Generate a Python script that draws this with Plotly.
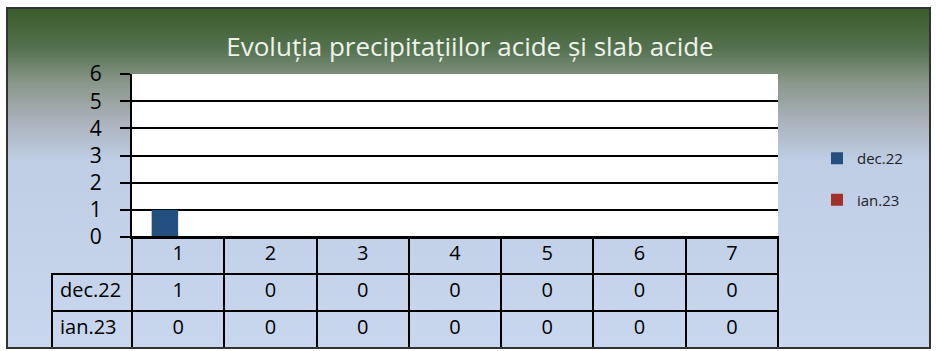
import plotly.graph_objects as go

# ---- data ----
categories = ["1", "2", "3", "4", "5", "6", "7"]
series_names = ["dec.22", "ian.23"]
dec22 = [1, 0, 0, 0, 0, 0, 0]
ian23 = [0, 0, 0, 0, 0, 0, 0]
title_text = "Evoluția precipitațiilor acide și slab acide"
y_ticks = [0, 1, 2, 3, 4, 5, 6]

W, H = 936, 351
colors = ["#24507f", "#a3302b"]

# plot area in pixels
px_l, px_r, px_t, px_b = 132, 778, 74, 237
tbl_l = 52

fig = go.Figure()
fig.add_trace(go.Bar(x=categories, y=dec22, name=series_names[0],
                     marker=dict(color=colors[0], line=dict(width=0)),
                     legendgroup="a"))
fig.add_trace(go.Bar(x=categories, y=ian23, name=series_names[1],
                     marker=dict(color=colors[1], line=dict(width=0)),
                     legendgroup="b"))

# data table
col_vals = [series_names] + [[str(a), str(b)] for a, b in zip(dec22, ian23)]
fig.add_trace(go.Table(
    domain=dict(x=[tbl_l / W, px_r / W], y=[0, 1 - px_b / H]),
    columnwidth=[80] + [92.3] * len(categories),
    header=dict(values=[""] + categories,
                fill_color="rgba(0,0,0,0)",
                line=dict(color=["rgba(0,0,0,0)"] + ["black"] * len(categories), width=2),
                font=dict(family="Open Sans", size=20, color="black"),
                align=["left"] + ["center"] * len(categories),
                height=37),
    cells=dict(values=col_vals,
               fill_color="rgba(0,0,0,0)",
               line=dict(color="black", width=2),
               font=dict(family="Open Sans", size=20, color="black"),
               align=["left"] + ["center"] * len(categories),
               height=37),
))

grad_svg = (
    "data:image/svg+xml;utf8,"
    "<svg xmlns='http://www.w3.org/2000/svg' width='100' height='100' preserveAspectRatio='none'>"
    "<defs><linearGradient id='g' x1='0' y1='0' x2='0' y2='1'>"
    "<stop offset='0' stop-color='%233a5b2a'/>"
    "<stop offset='0.12' stop-color='%23557250'/>"
    "<stop offset='0.22' stop-color='%238a978b'/>"
    "<stop offset='0.33' stop-color='%23a9b1ba'/>"
    "<stop offset='0.45' stop-color='%23bfcee5'/>"
    "<stop offset='1' stop-color='%23c9d7ee'/>"
    "</linearGradient></defs>"
    "<rect width='100' height='100' fill='url(%23g)'/></svg>"
)

fig.update_layout(
    width=W, height=H,
    margin=dict(l=0, r=0, t=0, b=0, autoexpand=False),
    paper_bgcolor="white",
    plot_bgcolor="white",
    barmode="group",
    bargap=0.426,
    bargroupgap=0,
    font=dict(family="Open Sans", color="black"),
    title=dict(text=title_text, x=470 / W, xanchor="center", y=1 - 47 / H, yanchor="middle",
               automargin=False,
               font=dict(family="Open Sans", size=26, color="#eef2ea")),
    xaxis=dict(domain=[px_l / W, px_r / W], type="category", showticklabels=False,
               automargin=False,
               ticks="", showgrid=False, showline=True, linecolor="black", linewidth=2),
    yaxis=dict(domain=[1 - px_b / H, 1 - px_t / H], range=[0, 6], tickvals=y_ticks,
               automargin=False,
               showgrid=True, gridcolor="black", gridwidth=2, zeroline=False,
               ticks="outside", ticklen=10, tickwidth=2, tickcolor="black",
               ticklabelstandoff=14,
               showline=True, linecolor="black", linewidth=2,
               tickfont=dict(family="Open Sans", size=21, color="black")),
    legend=dict(x=817 / W, xanchor="left", y=1 - 142 / H, yanchor="top",
                traceorder="grouped", tracegroupgap=19,
                bgcolor="rgba(0,0,0,0)",
                font=dict(family="Open Sans", size=15, color="#222222")),
    images=[dict(source=grad_svg, xref="paper", yref="paper", x=7 / W, y=1 - 8 / H,
                 sizex=923 / W, sizey=340 / H, sizing="stretch", layer="below",
                 xanchor="left", yanchor="top")],
    shapes=[
        dict(type="rect", xref="x domain", yref="y domain", x0=0, x1=1, y0=0, y1=1,
             fillcolor="white", line=dict(width=0), layer="below"),
        dict(type="rect", xref="paper", yref="paper", x0=7 / W, x1=930 / W,
             y0=1 - 348 / H, y1=1 - 8 / H, line=dict(color="#333333", width=2),
             fillcolor="rgba(0,0,0,0)", layer="above"),
    ],
)

fig.write_html("out.html", config={"displayModeBar": False},
               post_script="document.body.style.margin='0';")
